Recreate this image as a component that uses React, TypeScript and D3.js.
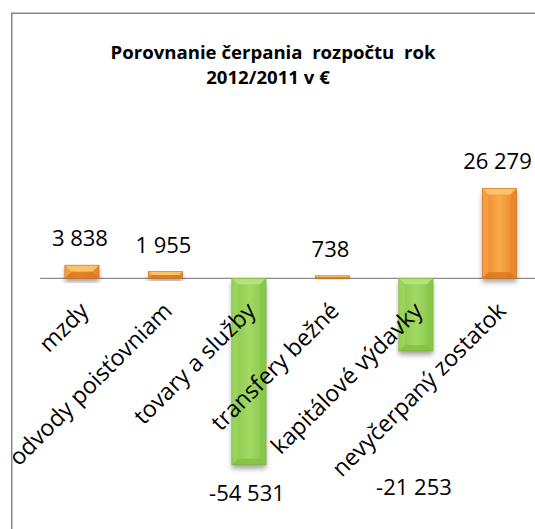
import React from 'react';
import * as d3 from 'd3';

const categories = ['mzdy', 'odvody poisťovniam', 'tovary a služby', 'transfery bežné', 'kapitálové výdavky', 'nevyčerpaný zostatok'];
const values = [3838, 1955, -54531, 738, -21253, 26279];
const titleLines = ['Porovnanie čerpania  rozpočtu  rok', '2012/2011 v €'];

const W = 535;
const H = 529;
const FONT = '"Open Sans", Carlito, Calibri, sans-serif';

const locale = d3.formatLocale({ decimal: ',', thousands: ' ', grouping: [3], currency: ['', ''], minus: '-' });
const fmt = locale.format(',d');

const COLORS = {
  pos: { base: '#F7962F', light: '#F9A94A', top: '#FCC466', bottom: '#D9761E', left: '#F9A548', right: '#E8862A', stroke: '#C8701E' },
  neg: { base: '#92D050', light: '#A3DA64', top: '#B4E27E', bottom: '#84C043', left: '#9ED960', right: '#88C548', stroke: '#79AD3F' },
};

export default function App() {
  const x = d3.scaleBand<string>().domain(categories).range([40.2, 541.2]).paddingInner(0).paddingOuter(0);
  const y = d3.scaleLinear().domain([-60000, 30000]).range([483.5, 175.7]);
  const y0 = y(0);
  const bw = x.bandwidth() * 0.41;

  return (
    <svg width={W} height={H} style={{ position: 'absolute', left: 0, top: 0, background: '#fff' }} fontFamily={FONT}>
      <defs>
        {(['pos', 'neg'] as const).map((k) => (
          <linearGradient key={k} id={`g-${k}`} x1="0" x2="1" y1="0" y2="0">
            <stop offset="0" stopColor={COLORS[k].right} />
            <stop offset="0.5" stopColor={COLORS[k].light} />
            <stop offset="1" stopColor={COLORS[k].right} />
          </linearGradient>
        ))}
        <filter id="shadow" x="-50%" y="-20%" width="200%" height="150%">
          <feDropShadow dx="0" dy="4" stdDeviation="2.5" floodColor="#000" floodOpacity="0.35" />
        </filter>
      </defs>
      <rect x={0} y={0} width={W} height={H} fill="#fff" />
      <rect x={11.75} y={13.25} width={700} height={700} fill="#fff" stroke="#878787" strokeWidth={1.5} />

      {titleLines.map((t, i) => (
        <text
          key={i}
          x={i === 0 ? 273 : 268}
          y={i === 0 ? 59.3 : 84}
          textAnchor="middle"
          fontWeight="bold"
          fontSize={18.6}
          fill="#000"
          style={{ whiteSpace: 'pre' }}
        >
          {t}
        </text>
      ))}

      <line x1={40.2} x2={W} y1={y0} y2={y0} stroke="#8A8A8A" strokeWidth={1.3} />

      {categories.map((c, i) => {
        const v = values[i];
        const k = v >= 0 ? 'pos' : 'neg';
        const col = COLORS[k];
        const cx = (x(c) as number) + x.bandwidth() / 2;
        const xa = cx - bw / 2;
        const xb = cx + bw / 2;
        const ya = Math.min(y(v), y0);
        const yb = Math.max(y(v), y0);
        const h = yb - ya;
        const b = Math.min(6, h / 2, bw / 2);
        const pts = (p: number[][]) => p.map((q) => q.join(',')).join(' ');
        return (
          <g key={c}>
            <g filter="url(#shadow)">
              <rect x={xa} y={ya} width={bw} height={h} fill={`url(#g-${k})`} />
            </g>
            <polygon points={pts([[xa, ya], [xb, ya], [xb - b, ya + b], [xa + b, ya + b]])} fill={col.top} />
            <polygon points={pts([[xa, yb], [xb, yb], [xb - b, yb - b], [xa + b, yb - b]])} fill={col.bottom} opacity={0.8} />
            <polygon points={pts([[xa, ya], [xa + b, ya + b], [xa + b, yb - b], [xa, yb]])} fill={col.left} opacity={0.7} />
            <polygon points={pts([[xb, ya], [xb - b, ya + b], [xb - b, yb - b], [xb, yb]])} fill={col.right} opacity={0.8} />
            <rect x={xa} y={ya} width={bw} height={h} fill="none" stroke={col.stroke} strokeWidth={0.6} />
          </g>
        );
      })}

      {categories.map((c, i) => {
        const v = values[i];
        const cx = (x(c) as number) + x.bandwidth() / 2;
        let ly = v >= 0 ? y(v) - 19 : y(v) + 36.7;
        if (c === 'kapitálové výdavky') ly = y(-63500);
        return (
          <text key={`v-${c}`} x={cx - 2} y={ly} textAnchor="middle" fontSize={22} fill="#000">
            {fmt(v)}
          </text>
        );
      })}

      {categories.map((c) => {
        const cx = (x(c) as number) + x.bandwidth() / 2;
        return (
          <text
            key={`c-${c}`}
            transform={`translate(${cx + 8},${y0 + 34}) rotate(-45)`}
            textAnchor="end"
            fontSize={23.2}
            fill="#000"
          >
            {c}
          </text>
        );
      })}
    </svg>
  );
}
